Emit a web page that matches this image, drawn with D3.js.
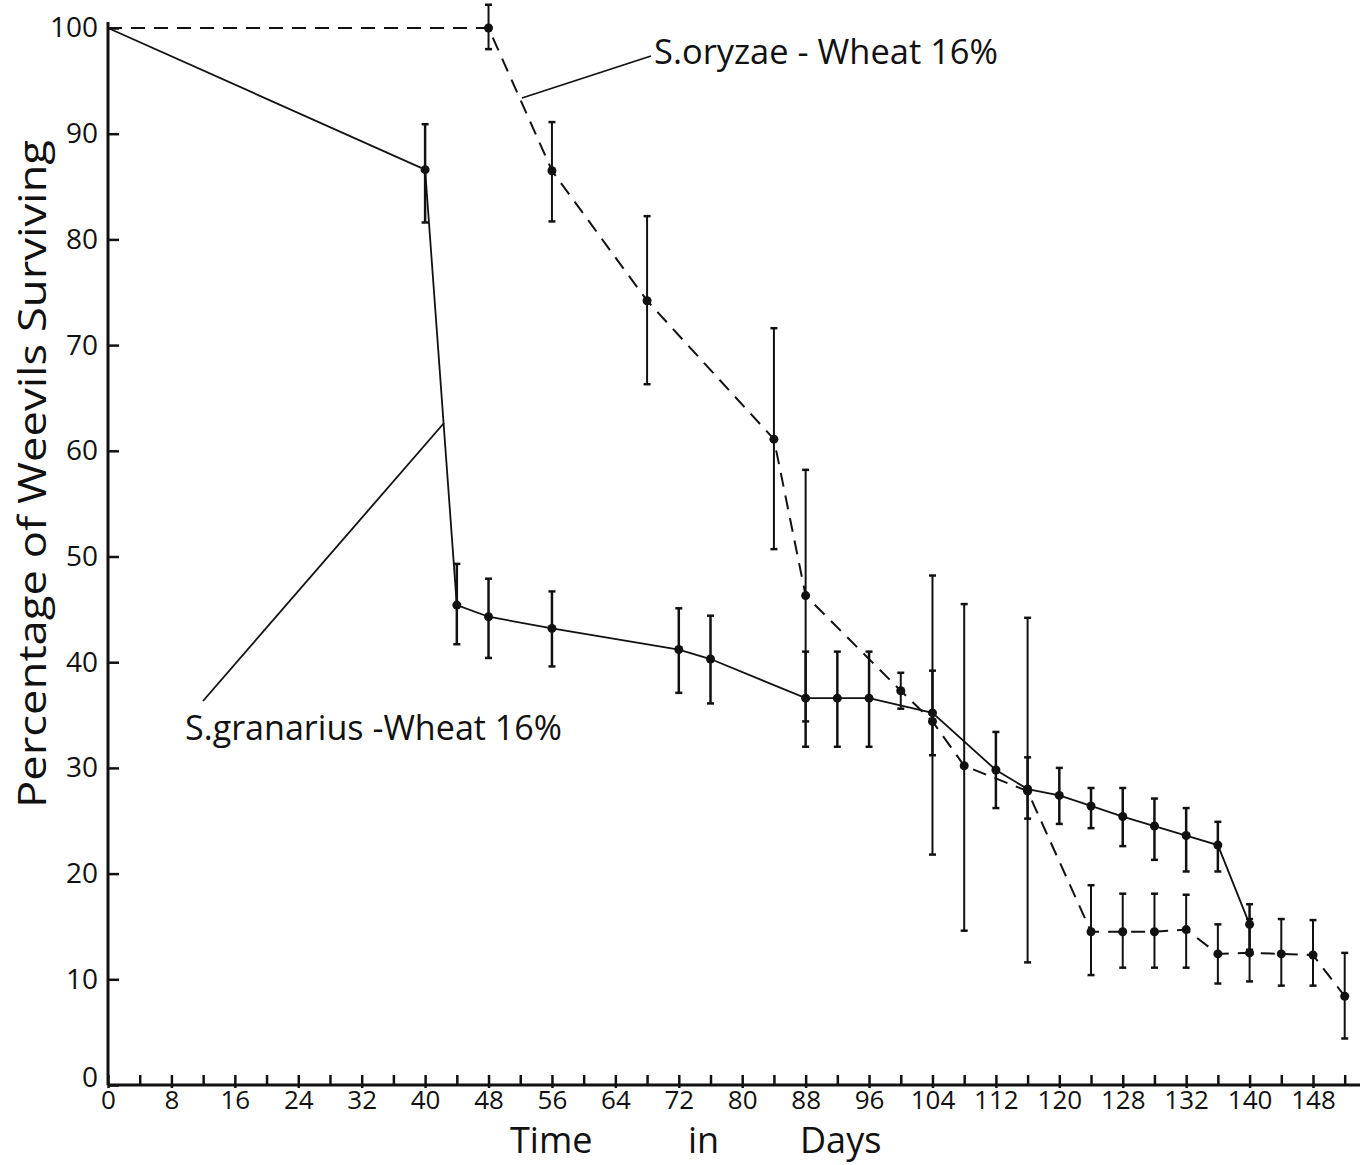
<!DOCTYPE html>
<html>
<head>
<meta charset="utf-8">
<script src="https://cdn.jsdelivr.net/npm/d3@7"></script>
<style>
  body { margin: 0; background: #fff; }
  text { font-family: "Open Sans", "DejaVu Sans", sans-serif; fill: #111; }
</style>
</head>
<body>
<div id="chart"></div>
<script>
// S. granarius - Wheat 16% (solid line)
const granDays = [0, 40, 44, 48, 56, 72, 76, 88, 92, 96, 104, 112, 116, 120, 124, 128, 132, 136, 140, 144];
const granPct  = [100, 86.6, 45.4, 44.3, 43.2, 41.2, 40.3, 36.6, 36.6, 36.6, 35.2, 29.8, 28.0, 27.4, 26.4, 25.4, 24.5, 23.6, 22.7, 15.2];
const granLow  = [null, 81.6, 41.7, 40.4, 39.6, 37.1, 36.1, 32.0, 32.0, 32.0, 31.2, 26.2, 25.2, 24.7, 24.3, 22.6, 21.3, 20.2, 20.2, 12.8];
const granHigh = [null, 90.9, 49.3, 47.9, 46.7, 45.1, 44.4, 41.0, 41.0, 41.0, 39.2, 33.4, 31.0, 30.0, 28.1, 28.1, 27.1, 26.2, 24.9, 17.1];

// S. oryzae - Wheat 16% (dashed line)
const oryDays = [0, 48, 56, 68, 84, 88, 100, 104, 108, 116, 124, 128, 132, 136, 140, 144, 148, 152, 156];
const oryPct  = [100, 100, 86.5, 74.2, 61.1, 46.3, 37.3, 34.4, 30.2, 27.8, 14.5, 14.5, 14.5, 14.7, 12.4, 12.5, 12.4, 12.3, 8.4];
const oryLow  = [null, 98.0, 81.7, 66.3, 50.7, 34.4, 35.6, 21.8, 14.6, 11.6, 10.4, 11.1, 11.1, 11.1, 9.6, 9.8, 9.4, 9.4, 4.4];
const oryHigh = [null, 102.2, 91.1, 82.2, 71.6, 58.2, 39.0, 48.2, 45.5, 44.2, 18.9, 18.1, 18.1, 18.0, 15.2, 15.7, 15.7, 15.6, 12.5];

// axis ticks (hand-drawn labels, evenly spaced every 8 units)
const xTickPos = [0, 8, 16, 24, 32, 40, 48, 56, 64, 72, 80, 88, 96, 104, 112, 120, 128, 136, 144, 152];
const xTickLabels = ["0", "8", "16", "24", "32", "40", "48", "56", "64", "72", "80", "88", "96", "104", "112", "120", "128", "132", "140", "148"];
const yTicks = [0, 10, 20, 30, 40, 50, 60, 70, 80, 90, 100];

const width = 1360, height = 1165;
const svg = d3.select("#chart").append("svg")
    .attr("width", width)
    .attr("height", height);

svg.append("rect").attr("width", width).attr("height", height).attr("fill", "#fff");

const xScale = d3.scaleLinear().domain([0, 152]).range([108, 1313]);
const yScale = d3.scaleLinear().domain([0, 100]).range([1085, 28]);

// x axis: minor ticks every 4, labelled ticks every 8
const xAxisG = svg.append("g")
    .attr("transform", "translate(0," + yScale(0) + ")")
    .call(d3.axisBottom(xScale)
        .tickValues(xTickPos)
        .tickSizeInner(-10).tickSizeOuter(0).tickPadding(6)
        .tickFormat((d, i) => xTickLabels[i]));
xAxisG.select(".domain").attr("d", "M" + xScale(0) + ",0H" + width);

svg.append("g")
    .attr("transform", "translate(0," + yScale(0) + ")")
    .call(d3.axisBottom(xScale)
        .tickValues(d3.range(4, 157, 8))
        .tickSizeInner(-10).tickSizeOuter(0)
        .tickFormat(""))
    .select(".domain").remove();

const yAxisG = svg.append("g")
    .attr("transform", "translate(" + xScale(0) + ",0)")
    .call(d3.axisLeft(yScale)
        .tickValues(yTicks)
        .tickSizeInner(-11).tickSizeOuter(0).tickPadding(10));
yAxisG.select(".domain").attr("d", "M0," + yScale(0) + "V" + (yScale(100) - 6));

svg.selectAll(".domain").attr("stroke", "#111").attr("stroke-width", 3);
svg.selectAll(".tick line").attr("stroke", "#111").attr("stroke-width", 2.5);
xAxisG.selectAll(".tick line").attr("y2", -10).attr("y1", 3);
xAxisG.selectAll(".tick text").attr("font-size", 26).attr("fill", "#111");
yAxisG.selectAll(".tick text").attr("font-size", 28).attr("fill", "#111");
yAxisG.selectAll(".tick").filter(d => d === 0).select("text").attr("dy", "0.05em");

// series
const granData = granDays.map((d, i) => ({x: d, y: granPct[i], lo: granLow[i], hi: granHigh[i]}));
const oryData = oryDays.map((d, i) => ({x: d, y: oryPct[i], lo: oryLow[i], hi: oryHigh[i]}));

const line = d3.line().x(d => xScale(d.x)).y(d => yScale(d.y));

function drawSeries(data, dashed, barWidth) {
    const g = svg.append("g");
    g.append("path")
        .datum(data)
        .attr("fill", "none")
        .attr("stroke", "#111")
        .attr("stroke-width", dashed ? 2 : 1.8)
        .attr("stroke-dasharray", dashed ? "14,9" : null)
        .attr("d", line);

    const bars = g.selectAll(".errBar")
        .data(data.filter(d => d.lo !== null))
        .join("g")
        .attr("class", "errBar");
    bars.append("line")
        .attr("x1", d => xScale(d.x)).attr("x2", d => xScale(d.x))
        .attr("y1", d => yScale(d.lo)).attr("y2", d => yScale(d.hi))
        .attr("stroke", "#111").attr("stroke-width", barWidth);
    bars.append("line")
        .attr("x1", d => xScale(d.x) - 3.5).attr("x2", d => xScale(d.x) + 3.5)
        .attr("y1", d => yScale(d.hi)).attr("y2", d => yScale(d.hi))
        .attr("stroke", "#111").attr("stroke-width", 2.5);
    bars.append("line")
        .attr("x1", d => xScale(d.x) - 3.5).attr("x2", d => xScale(d.x) + 3.5)
        .attr("y1", d => yScale(d.lo)).attr("y2", d => yScale(d.lo))
        .attr("stroke", "#111").attr("stroke-width", 2.5);

    g.selectAll(".dot")
        .data(data.filter(d => d.x > 0))
        .join("circle")
        .attr("class", "dot")
        .attr("cx", d => xScale(d.x))
        .attr("cy", d => yScale(d.y))
        .attr("r", 4.5)
        .attr("fill", "#111");
}

drawSeries(oryData, true, 2);
drawSeries(granData, false, 2.5);

// labels with leader lines
svg.append("line")
    .attr("x1", 522).attr("y1", 98).attr("x2", 651).attr("y2", 56)
    .attr("stroke", "#111").attr("stroke-width", 1.8);
svg.append("text")
    .attr("x", 654).attr("y", 64)
    .attr("font-size", 34)
    .attr("textLength", 344).attr("lengthAdjust", "spacingAndGlyphs")
    .text("S.oryzae - Wheat 16%");

svg.append("line")
    .attr("x1", 203).attr("y1", 701).attr("x2", 444).attr("y2", 423)
    .attr("stroke", "#111").attr("stroke-width", 1.8);
svg.append("text")
    .attr("x", 185).attr("y", 740)
    .attr("font-size", 34)
    .attr("textLength", 377).attr("lengthAdjust", "spacingAndGlyphs")
    .text("S.granarius -Wheat 16%");

// axis titles
svg.append("text")
    .attr("transform", "translate(46,474) rotate(-90)")
    .attr("text-anchor", "middle")
    .attr("font-size", 38)
    .attr("textLength", 668).attr("lengthAdjust", "spacingAndGlyphs")
    .text("Percentage  of  Weevils  Surviving");

const xTitle = [["Time", 510], ["in", 688], ["Days", 800]];
svg.selectAll(".xTitle")
    .data(xTitle)
    .join("text")
    .attr("class", "xTitle")
    .attr("x", d => d[1])
    .attr("y", 1153)
    .attr("font-size", 36)
    .text(d => d[0]);
</script>
</body>
</html>
